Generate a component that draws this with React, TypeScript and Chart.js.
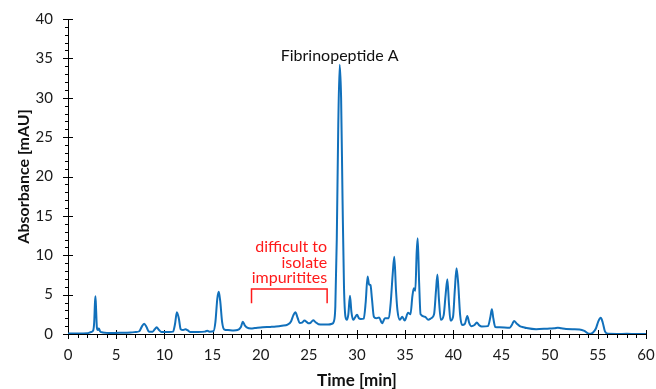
import React, { useEffect, useRef } from "react";
import { Chart, registerables } from "chart.js";

Chart.register(...registerables);

// Retention time [min]
const times = [
  0, 1, 2, 2.4, 2.6, 2.72, 2.8, 2.85, 2.92, 3.0, 3.1, 3.2, 3.35, 3.6, 4.5, 5.5, 6.5, 7.0, 7.4, 7.65,
  7.9, 8.15, 8.4, 8.8, 9.0, 9.2, 9.45, 9.7, 10.5, 10.9, 11.1, 11.3, 11.5, 11.7, 11.95, 12.2, 12.45, 12.7, 13.5, 14.2,
  14.45, 14.7, 15.1, 15.3, 15.5, 15.65, 15.8, 16.0, 16.2, 16.6, 17.2, 17.6, 17.95, 18.15, 18.35, 18.6, 19.0, 19.4, 20.2, 21.0,
  21.6, 22.2, 22.8, 23.15, 23.4, 23.6, 23.85, 24.05, 24.3, 24.55, 24.8, 25.0, 25.2, 25.45, 25.7, 26.0, 26.5, 27.0, 27.4, 27.6,
  27.75, 27.9, 28.05, 28.2, 28.35, 28.5, 28.65, 28.8, 28.95, 29.1, 29.27, 29.42, 29.6, 29.8, 30.0, 30.2, 30.4, 30.7, 30.9, 31.1,
  31.25, 31.4, 31.55, 31.75, 32.0, 32.3, 32.6, 32.9, 33.3, 33.5, 33.7, 33.87, 34.05, 34.2, 34.45, 34.7, 34.95, 35.3, 35.55, 35.75,
  35.9, 36.05, 36.2, 36.3, 36.45, 36.6, 37.05, 37.4, 37.7, 38.0, 38.2, 38.35, 38.5, 38.7, 39.0, 39.2, 39.38, 39.55, 39.7, 39.97,
  40.15, 40.33, 40.5, 40.7, 40.9, 41.2, 41.45, 41.65, 41.85, 42.2, 42.43, 42.7, 42.95, 43.6, 43.85, 44.0, 44.15, 44.35, 44.8, 45.85,
  46.1, 46.3, 46.6, 46.9, 47.3, 47.6, 48.6, 50.0, 50.5, 50.85, 51.2, 51.7, 52.5, 53.1, 53.6, 54.1, 54.5, 54.8, 55.05, 55.3,
  55.5, 55.75, 56.1, 57, 58, 59, 60,
];

// Absorbance [mAU]
const absorbance = [
  0.05, 0.05, 0.1, 0.25, 0.4, 1.5, 4.0, 4.8, 3.0, 0.8, 0.5, 0.7, 0.3, 0.2, 0.12, 0.15, 0.2, 0.25, 0.35, 0.9,
  1.3, 0.9, 0.3, 0.3, 0.6, 0.85, 0.5, 0.25, 0.25, 0.3, 1.2, 2.75, 2.0, 0.6, 0.5, 0.6, 0.45, 0.25, 0.25, 0.3,
  0.4, 0.3, 0.35, 1.5, 4.5, 5.35, 4.2, 1.5, 0.6, 0.5, 0.45, 0.5, 0.9, 1.55, 1.1, 0.8, 0.7, 0.75, 0.85, 0.9,
  0.95, 1.05, 1.2, 1.6, 2.4, 2.75, 2.0, 1.4, 1.45, 1.7, 1.5, 1.35, 1.45, 1.75, 1.5, 1.25, 1.2, 1.2, 1.3, 1.6,
  3.5, 12, 26, 34.2, 30, 17, 6, 2.2, 1.8, 2.5, 4.85, 2.8, 1.8, 2.1, 2.45, 2.0, 1.9, 1.95, 4.0, 7.3,
  6.3, 6.2, 4.5, 2.2, 2.0, 2.1, 1.35, 2.0, 2.0, 4.0, 7.5, 9.8, 5.5, 3.0, 1.8, 2.2, 1.7, 2.7, 2.5, 4.8,
  5.8, 5.5, 10.5, 12.15, 6.5, 2.5, 2.2, 1.8, 2.0, 2.5, 5.5, 7.55, 4.5, 1.8, 2.4, 5.0, 6.95, 3.8, 1.7, 2.2,
  5.5, 8.35, 6.5, 2.5, 1.15, 1.3, 2.3, 1.4, 1.0, 1.15, 1.45, 1.1, 0.95, 1.0, 2.2, 3.15, 2.0, 0.9, 0.85, 0.8,
  1.2, 1.65, 1.3, 1.0, 0.85, 0.75, 0.6, 0.7, 0.72, 0.8, 0.72, 0.62, 0.6, 0.58, 0.4, 0.02, 0.2, 0.7, 1.6, 2.05,
  1.5, 0.3, 0.02, 0.0, 0.02, 0.0, 0.0,
];

// Bracket marking the impurity region (time, absorbance)
const bracketTimes = [19.05, 19.05, 26.9, 26.9];
const bracketValues = [3.9, 5.7, 5.7, 3.9];

const peakLabel = "Fibrinopeptide A";
const peakLabelTime = 28.2;
const peakLabelValue = 34.7;

const noteLines = ["difficult to", "isolate", "impuritites"];
const noteRightTime = 26.9;
const noteTopValue = 10.4;

const xMin = 0;
const xMax = 60;
const xStep = 5;
const yMin = 0;
const yMax = 40;
const yStep = 5;
const minorStep = 1;

const FONT = "Lato, 'Open Sans', sans-serif";
const TRACE = "#1170bb";
const RED = "#ff1a1a";

const axisPlugin = {
  id: "customAxes",
  beforeDatasetsDraw(chart: any) {
    const { ctx, chartArea } = chart;
    const xs = chart.scales.x;
    const ys = chart.scales.y;
    const x0 = xs.getPixelForValue(xMin);
    const y0 = ys.getPixelForValue(yMin);
    ctx.save();
    ctx.strokeStyle = "#000";
    ctx.lineWidth = 1;
    ctx.beginPath();
    ctx.moveTo(Math.round(x0) + 0.5, chartArea.top);
    ctx.lineTo(Math.round(x0) + 0.5, Math.round(y0) + 0.5);
    ctx.lineTo(xs.getPixelForValue(xMax), Math.round(y0) + 0.5);
    ctx.stroke();
    // y ticks
    for (let v = yMin; v <= yMax + 1e-9; v += minorStep) {
      const py = Math.round(ys.getPixelForValue(v)) + 0.5;
      const major = Math.abs(v % yStep) < 1e-9;
      ctx.beginPath();
      if (major) {
        ctx.moveTo(x0 - 5, py);
        ctx.lineTo(x0 + 5, py);
      } else {
        ctx.moveTo(x0 - 3, py);
        ctx.lineTo(x0, py);
      }
      ctx.stroke();
    }
    // x ticks
    for (let t = xMin; t <= xMax + 1e-9; t += minorStep) {
      const px = Math.round(xs.getPixelForValue(t)) + 0.5;
      const major = Math.abs(t % xStep) < 1e-9;
      ctx.beginPath();
      if (major) {
        ctx.moveTo(px, y0 - 4);
        ctx.lineTo(px, y0 + 5);
      } else {
        ctx.moveTo(px, y0);
        ctx.lineTo(px, y0 + 4);
      }
      ctx.stroke();
    }
    ctx.restore();
  },
  afterDatasetsDraw(chart: any) {
    const { ctx } = chart;
    const xs = chart.scales.x;
    const ys = chart.scales.y;
    ctx.save();
    ctx.fillStyle = "#111";
    ctx.font = `16px ${FONT}`;
    ctx.textAlign = "center";
    ctx.textBaseline = "alphabetic";
    ctx.fillText(peakLabel, xs.getPixelForValue(peakLabelTime), ys.getPixelForValue(peakLabelValue));
    ctx.fillStyle = RED;
    ctx.textAlign = "right";
    const rx = xs.getPixelForValue(noteRightTime);
    const ty = ys.getPixelForValue(noteTopValue);
    noteLines.forEach((line, i) => {
      ctx.fillText(line, rx, ty + i * 15.5);
    });
    ctx.restore();
  },
};

export default function App() {
  const canvasRef = useRef<HTMLCanvasElement | null>(null);

  useEffect(() => {
    const canvas = canvasRef.current;
    if (!canvas) return;
    const chart = new Chart(canvas, {
      type: "line",
      data: {
        datasets: [
          {
            label: "Absorbance",
            data: times.map((t, i) => ({ x: t, y: absorbance[i] })),
            borderColor: TRACE,
            borderWidth: 2,
            pointRadius: 0,
            cubicInterpolationMode: "monotone",
            fill: false,
          },
          {
            label: "Impurity region",
            data: bracketTimes.map((t, i) => ({ x: t, y: bracketValues[i] })),
            borderColor: RED,
            borderWidth: 1.5,
            pointRadius: 0,
            tension: 0,
            fill: false,
          },
        ],
      },
      options: {
        responsive: false,
        animation: false,
        layout: { padding: { top: 19, right: 10, left: 0, bottom: 0 } },
        plugins: {
          legend: { display: false },
          tooltip: { enabled: false },
        },
        scales: {
          x: {
            type: "linear",
            min: xMin,
            max: xMax,
            afterFit: (scale: any) => {
              scale.height = 55;
              scale.paddingLeft = 0;
              scale.paddingRight = 0;
            },
            grid: { display: false, drawTicks: false },
            border: { display: false },
            ticks: {
              stepSize: xStep,
              padding: 12,
              color: "#1a1a1a",
              font: { family: FONT, size: 15 },
              maxRotation: 0,
            },
            title: {
              display: true,
              text: "Time [min]",
              color: "#111",
              font: { family: FONT, size: 17, weight: "bold", lineHeight: 1 },
              padding: 0,
            },
          },
          y: {
            type: "linear",
            min: yMin,
            max: yMax,
            afterFit: (scale: any) => {
              scale.width = 68;
              scale.paddingTop = 0;
              scale.paddingBottom = 0;
            },
            grid: { display: false, drawTicks: false },
            border: { display: false },
            ticks: {
              stepSize: yStep,
              padding: 15,
              color: "#1a1a1a",
              font: { family: FONT, size: 15 },
            },
            title: {
              display: true,
              text: "Absorbance [mAU]",
              color: "#111",
              font: { family: FONT, size: 16, weight: "bold", lineHeight: 1.2 },
              padding: { top: 14, bottom: 0 },
            },
          },
        },
      },
      plugins: [axisPlugin],
    });
    return () => chart.destroy();
  }, []);

  return (
    <div style={{ position: "fixed", left: 0, top: 0, width: 656, height: 389, background: "#fff" }}>
      <canvas ref={canvasRef} width={656} height={389} style={{ display: "block" }} />
    </div>
  );
}
